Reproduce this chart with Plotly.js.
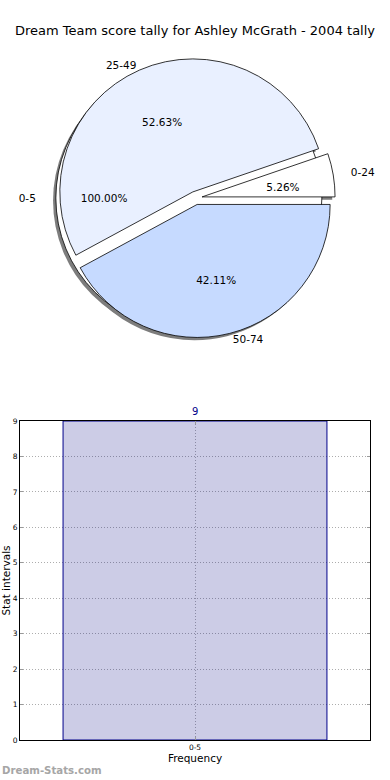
<!DOCTYPE html>
<html><head><meta charset="utf-8">
<script src="https://cdn.plot.ly/plotly-3.0.1.min.js"></script>
<style>html,body{margin:0;padding:0;background:#fff}#chart{width:390px;height:780px}</style>
</head><body><div id="chart"></div>
<script>
// ---- data ----
const titleText = 'Dream Team score tally for Ashley McGrath - 2004 tally';
const pieLabels = ['0-24', '25-49', '50-74'];
const pieValues = [1, 10, 8];
const overlayLabels = ['0-5'];
const overlayValues = [9];
const barCategories = ['0-5'];
const barValues = [9];
const yTickValues = [0, 1, 2, 3, 4, 5, 6, 7, 8, 9];
const xTitle = 'Frequency';
const yTitle = 'Stat intervals';
const watermark = 'Dream-Stats.com';

// ---- styling / geometry ----
const pieColors = ['#FFFFFF', '#E9F0FF', '#C6DAFF'];
const W = 390, H = 780;
const C = {x: 195.5, y: 198};
const R = 133;
const SHIFT = 6.65;           // explode offset in px
const SHADOW = {x: -2.8, y: 2.8};
const TXT = {family: 'DejaVu Sans', size: 10.5, color: '#000'};

function dom(cx, cy, r) {
  const h = r + SHIFT;
  return {x: [(cx - h) / W, (cx + h) / W], y: [1 - (cy + h) / H, 1 - (cy - h) / H]};
}
function sum(vals) { return vals.reduce((a, b) => a + b, 0); }
function pctText(vals) {
  const s = sum(vals);
  return vals.map(v => (v / s * 100).toFixed(2) + '%');
}
// first wedge starts at 3 o'clock and runs counterclockwise (plotly places the
// first counterclockwise slice clockwise of `rotation`, so offset by its angle)
function rotationFor(vals) { return 90 - 360 * vals[0] / sum(vals); }
const clear = n => Array(n).fill('rgba(0,0,0,0)');
function pieTrace(labels, values, r, opts, cx, cy) {
  return Object.assign({
    type: 'pie', labels: labels, values: values, sort: false,
    direction: 'counterclockwise', rotation: values.length > 1 ? rotationFor(values) : 90,
    hoverinfo: 'skip', showlegend: false,
    domain: dom(cx === undefined ? C.x : cx, cy === undefined ? C.y : cy, r),
    pull: values.map(() => SHIFT / r),
    textfont: TXT, insidetextfont: TXT, outsidetextfont: TXT,
    textinfo: 'none'
  }, opts);
}
const mainPct = pctText(pieValues);
const ovPct = pctText(overlayValues);
const noLine = {color: 'rgba(0,0,0,0)', width: 0};
const blackLine = {color: '#000', width: 0.8};

const traces = [
  // shadows
  pieTrace(overlayLabels, overlayValues, R, {marker: {colors: ['#7d7d7d'], line: noLine}}, C.x + SHADOW.x, C.y + SHADOW.y),
  pieTrace(pieLabels, pieValues, R, {marker: {colors: Array(pieValues.length).fill('#7d7d7d'), line: noLine}}, C.x + SHADOW.x, C.y + SHADOW.y),
  // overlay 0-5 pie
  pieTrace(overlayLabels, overlayValues, R, {marker: {colors: ['#FFFFFF'], line: blackLine}}),
  // main pie with outer labels for 25-49 / 50-74
  pieTrace(pieLabels, pieValues, R, {marker: {colors: pieColors, line: blackLine},
    textinfo: 'text', text: pieLabels.map((l, i) => i === 0 ? '' : l), textposition: 'outside'}),
  // percentages inside big slices
  pieTrace(pieLabels, pieValues, 153, {marker: {colors: clear(3), line: noLine},
    textinfo: 'text', text: mainPct.map((p, i) => i === 0 ? '' : p), textposition: 'inside', insidetextorientation: 'horizontal'}),
  // percentage for the small slice
  pieTrace(pieLabels, pieValues, 62, {marker: {colors: clear(3), line: noLine},
    textinfo: 'text', text: mainPct.map((p, i) => i === 0 ? p : ''), textposition: 'outside'}),
  // label for the small slice
  pieTrace(pieLabels, pieValues, 147.7, {marker: {colors: clear(3), line: noLine},
    textinfo: 'text', text: pieLabels.map((l, i) => i === 0 ? l : ''), textposition: 'outside'}),
  // overlay percentage and label
  pieTrace(overlayLabels, overlayValues, 58.4, {marker: {colors: clear(1), line: noLine},
    textinfo: 'text', text: ovPct, textposition: 'outside'}),
  pieTrace(overlayLabels, overlayValues, 150, {marker: {colors: clear(1), line: noLine},
    textinfo: 'text', text: overlayLabels, textposition: 'outside'}),
  // bar chart
  {type: 'bar', x: barCategories, y: barValues, width: 0.754, xaxis: 'x', yaxis: 'y',
   marker: {color: 'rgba(0,0,128,0.2)', line: {color: '#00008B', width: 1}},
   hoverinfo: 'skip', showlegend: false}
];

const axisCommon = {
  showline: true, mirror: 'ticks', linecolor: '#000', linewidth: 1,
  ticks: 'inside', ticklen: 3, tickcolor: '#999', tickwidth: 1,
  showgrid: true, gridcolor: '#adadad', griddash: '1px,2px', gridwidth: 1,
  zeroline: false, fixedrange: true, automargin: false,
  tickfont: {family: 'DejaVu Sans', size: 7.5, color: '#000'}
};

const layout = {
  width: W, height: H, margin: {l: 0, r: 0, t: 0, b: 0},
  paper_bgcolor: '#fff', plot_bgcolor: '#fff',
  font: {family: 'DejaVu Sans', color: '#000'},
  title: {text: titleText, x: 0.5, xanchor: 'center', y: 1 - 30 / H, yanchor: 'middle',
          font: {family: 'DejaVu Sans', size: 13, color: '#000'}},
  xaxis: Object.assign({}, axisCommon, {
    domain: [20 / W, 370 / W], type: 'category', range: [-0.5, 0.5],
    title: {text: xTitle, font: {family: 'DejaVu Sans', size: 10.5, color: '#000'}, standoff: 3}
  }),
  yaxis: Object.assign({}, axisCommon, {
    domain: [1 - 740 / H, 1 - 421 / H], range: [0, 9], tickmode: 'array', tickvals: yTickValues,
    title: {text: yTitle, font: {family: 'DejaVu Sans', size: 10.5, color: '#000'}, standoff: 3}
  }),
  annotations: [
    {x: barCategories[0], y: barValues[0], xref: 'x', yref: 'y', text: String(barValues[0]),
     showarrow: false, yanchor: 'bottom', yshift: 2, font: {family: 'DejaVu Sans', size: 10, color: '#00008B'}},
    {x: 0, y: 10 / H, xref: 'paper', yref: 'paper', xanchor: 'left', yanchor: 'middle', text: '<b>' + watermark + '</b>',
     showarrow: false, font: {family: 'DejaVu Sans', size: 10.2, color: '#a6a6a6'}}
  ]
};

Plotly.newPlot('chart', traces, layout, {staticPlot: true, displayModeBar: false});
</script>
</body></html>
